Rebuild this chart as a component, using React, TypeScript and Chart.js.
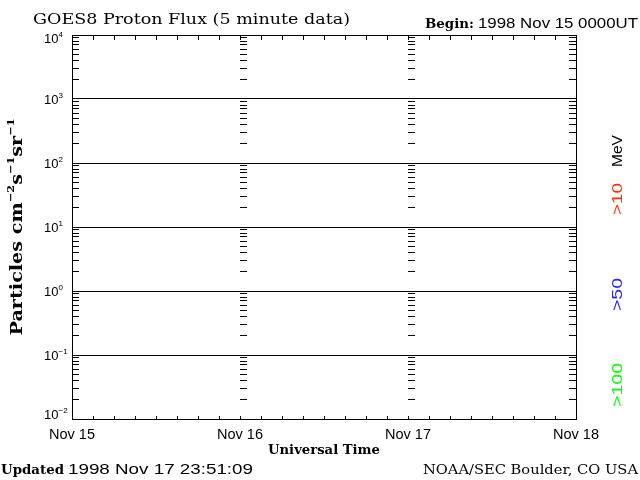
import { useEffect, useRef } from "react";
import { Chart, registerables } from "chart.js";

Chart.register(...registerables);

// ---- data ----
const dayLabels = ["Nov 15", "Nov 16", "Nov 17", "Nov 18"];
const dayHours = [0, 24, 48, 72];
const axisTickHours = [0, 3, 6, 9, 12, 15, 18, 21, 24, 27, 30, 33, 36, 39, 42, 45, 48, 51, 54, 57, 60, 63, 66, 69, 72];
const decadeExponents = [-2, -1, 0, 1, 2, 3, 4];
const minorMultipliers = [2, 3, 4, 5, 6, 7, 8, 9];
const seriesLabels = [">10", ">50", ">100"];
const seriesColors = ["#ff3000", "#2424ff", "#00ff00"];
const flux10MeV: { x: number; y: number }[] = [];
const flux50MeV: { x: number; y: number }[] = [];
const flux100MeV: { x: number; y: number }[] = [];

const titleText = "GOES8 Proton Flux (5 minute data)";
const beginLabel = "Begin:";
const beginValue = "1998 Nov 15 0000UT";
const xTitle = "Universal Time";
const updatedLabel = "Updated";
const updatedValue = "1998 Nov 17 23:51:09";
const creditText = "NOAA/SEC Boulder, CO USA";

const SERIF = "'DejaVu Serif', 'Liberation Serif', serif";
const SANS = "'Liberation Sans', Arial, sans-serif";

type Seg = { t: string; size: number; family: string; weight?: string; dy?: number; color?: string };

function measureSegs(ctx: CanvasRenderingContext2D, segs: Seg[]) {
  let w = 0;
  for (const s of segs) {
    ctx.font = `${s.weight || "normal"} ${s.size}px ${s.family}`;
    w += ctx.measureText(s.t).width;
  }
  return w;
}

// draw text segments with baseline at (0,0) relative to current transform
function drawSegs(
  ctx: CanvasRenderingContext2D,
  segs: Seg[],
  x: number,
  y: number,
  align: "left" | "center" | "right",
  width?: number,
  rotate = false
) {
  const w0 = measureSegs(ctx, segs);
  const sx = width ? width / w0 : 1;
  const w = w0 * sx;
  ctx.save();
  ctx.translate(x, y);
  if (rotate) ctx.rotate(-Math.PI / 2);
  let start = align === "left" ? 0 : align === "center" ? -w / 2 : -w;
  ctx.translate(start, 0);
  ctx.scale(sx, 1);
  ctx.textAlign = "left";
  ctx.textBaseline = "alphabetic";
  let cx = 0;
  for (const s of segs) {
    ctx.font = `${s.weight || "normal"} ${s.size}px ${s.family}`;
    ctx.fillStyle = s.color || "#000";
    ctx.fillText(s.t, cx, s.dy || 0);
    cx += ctx.measureText(s.t).width;
  }
  ctx.restore();
}

const goesPlugin = {
  id: "goesFrame",
  beforeDraw(chart: any) {
    const ctx: CanvasRenderingContext2D = chart.ctx;
    ctx.save();
    ctx.fillStyle = "#fff";
    ctx.fillRect(0, 0, chart.width, chart.height);
    ctx.restore();
  },
  afterDraw(chart: any) {
    const ctx: CanvasRenderingContext2D = chart.ctx;
    const xs = chart.scales.x;
    const ys = chart.scales.y;
    const { left, right, top, bottom } = chart.chartArea;
    const c = (v: number) => Math.floor(v) + 0.5;

    ctx.save();
    ctx.strokeStyle = "#000";
    ctx.lineWidth = 1;

    // frame
    ctx.beginPath();
    ctx.rect(c(left), c(top), Math.round(right - left), Math.round(bottom - top));
    ctx.stroke();

    // decade lines
    ctx.beginPath();
    for (const e of decadeExponents) {
      const py = c(ys.getPixelForValue(Math.pow(10, e)));
      ctx.moveTo(c(left), py);
      ctx.lineTo(c(right), py);
    }
    ctx.stroke();

    // minor log ticks on each day boundary (inward) and right edge
    ctx.beginPath();
    for (let i = 0; i < decadeExponents.length - 1; i++) {
      const e = decadeExponents[i];
      for (const m of minorMultipliers) {
        const py = c(ys.getPixelForValue(m * Math.pow(10, e)));
        for (const h of dayHours.slice(0, 3)) {
          const px = Math.floor(xs.getPixelForValue(h));
          ctx.moveTo(px, py);
          ctx.lineTo(px + 7, py);
        }
        const pr = Math.floor(xs.getPixelForValue(dayHours[3])) + 1;
        ctx.moveTo(pr, py);
        ctx.lineTo(pr - 8, py);
      }
    }
    ctx.stroke();

    // top / bottom time ticks
    ctx.beginPath();
    for (const h of axisTickHours) {
      const px = c(xs.getPixelForValue(h));
      ctx.moveTo(px, Math.floor(top));
      ctx.lineTo(px, Math.floor(top) + 5);
      ctx.moveTo(px, Math.floor(bottom) + 1);
      ctx.lineTo(px, Math.floor(bottom) - 3);
    }
    ctx.stroke();

    // y tick labels
    for (const e of decadeExponents) {
      let py = ys.getPixelForValue(Math.pow(10, e));
      py = Math.max(38, Math.min(414, py));
      drawSegs(
        ctx,
        [
          { t: "10", size: 13, family: SANS },
          { t: String(e).replace("-", "\u2212"), size: 8, family: SANS, dy: -6 },
        ],
        44,
        py + 5,
        "left"
      );
    }

    // x tick labels
    dayLabels.forEach((lab, i) => {
      const px = xs.getPixelForValue(dayHours[i]);
      drawSegs(ctx, [{ t: lab, size: 14, family: SANS }], px, 439, "center", 46);
    });

    // title & header
    drawSegs(ctx, [{ t: titleText, size: 15, family: SERIF }], 33, 24, "left", 317);
    drawSegs(ctx, [{ t: beginLabel, size: 13, family: SERIF, weight: "bold" }], 425, 28, "left", 49);
    drawSegs(ctx, [{ t: beginValue, size: 14, family: SANS }], 478, 28, "left", 160);

    // x axis title
    drawSegs(ctx, [{ t: xTitle, size: 13, family: SERIF, weight: "bold" }], 324, 454, "center", 112);

    // footer
    drawSegs(ctx, [{ t: updatedLabel, size: 13, family: SERIF, weight: "bold" }], 1, 474, "left", 63);
    drawSegs(ctx, [{ t: updatedValue, size: 14, family: SANS }], 68, 474, "left", 185);
    drawSegs(ctx, [{ t: creditText, size: 13, family: SERIF }], 638, 474, "right", 215);

    // y axis title (rotated)
    drawSegs(
      ctx,
      [
        { t: "Particles cm", size: 17, family: SERIF, weight: "bold" },
        { t: "\u22122", size: 10, family: SERIF, weight: "bold", dy: -8 },
        { t: "s", size: 17, family: SERIF, weight: "bold" },
        { t: "\u22121", size: 10, family: SERIF, weight: "bold", dy: -8 },
        { t: "sr", size: 17, family: SERIF, weight: "bold" },
        { t: "\u22121", size: 10, family: SERIF, weight: "bold", dy: -8 },
      ],
      22,
      227,
      "center",
      217,
      true
    );

    // right-side energy labels (rotated)
    drawSegs(ctx, [{ t: "MeV", size: 15, family: SANS }], 622, 151, "center", 32, true);
    const centers = [199, 294.5, 385];
    const widths = [32, 33, 44];
    seriesLabels.forEach((lab, i) => {
      drawSegs(ctx, [{ t: lab, size: 15, family: SANS, color: seriesColors[i] }], 622, centers[i], "center", widths[i], true);
    });

    ctx.restore();
  },
};

export default function App() {
  const ref = useRef<HTMLCanvasElement>(null);
  useEffect(() => {
    const chart = new Chart(ref.current as HTMLCanvasElement, {
      type: "line",
      data: {
        datasets: [
          { label: seriesLabels[0] + " MeV", data: flux10MeV, borderColor: seriesColors[0], borderWidth: 1, pointRadius: 0 },
          { label: seriesLabels[1] + " MeV", data: flux50MeV, borderColor: seriesColors[1], borderWidth: 1, pointRadius: 0 },
          { label: seriesLabels[2] + " MeV", data: flux100MeV, borderColor: seriesColors[2], borderWidth: 1, pointRadius: 0 },
        ],
      },
      options: {
        responsive: false,
        animation: false,
        devicePixelRatio: 1,
        layout: { padding: { left: 72, top: 35, right: 64, bottom: 61 } },
        scales: {
          x: { type: "linear", min: 0, max: 72, display: false },
          y: { type: "logarithmic", min: 0.01, max: 10000, display: false },
        },
        plugins: { legend: { display: false }, tooltip: { enabled: false }, title: { display: false } },
      },
      plugins: [goesPlugin],
    });
    return () => chart.destroy();
  }, []);
  return (
    <div style={{ position: "fixed", left: 0, top: 0, width: 640, height: 480, background: "#fff" }}>
      <canvas ref={ref} width={640} height={480} style={{ display: "block", width: 640, height: 480 }} />
    </div>
  );
}
